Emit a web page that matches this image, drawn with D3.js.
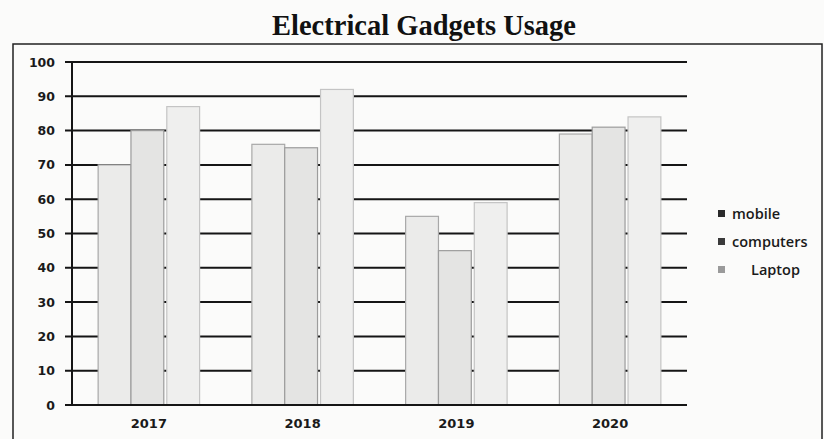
<!DOCTYPE html>
<html>
<head>
<meta charset="utf-8">
<script src="https://cdn.jsdelivr.net/npm/d3@7"></script>
<style>
  body { margin: 0; background: #fbfbfa; }
  svg { display: block; }
</style>
</head>
<body>
<svg id="chart" width="824" height="439"></svg>
<script>
// Data
const years = ["2017", "2018", "2019", "2020"];
const seriesNames = ["mobile", "computers", "Laptop"];
const mobile = [70, 76, 55, 79];
const computers = [80, 75, 45, 81];
const laptop = [87, 92, 59, 84];
const yTicks = [0, 10, 20, 30, 40, 50, 60, 70, 80, 90, 100];

const svg = d3.select("#chart");
const margin = { top: 62, left: 72, right: 137, bottom: 34 };
const width = 824 - margin.left - margin.right;
const height = 439 - margin.top - margin.bottom;

// outer frame of the scanned figure
svg.append("rect")
    .attr("x", 13).attr("y", 44)
    .attr("width", 809).attr("height", 410)
    .attr("fill", "none")
    .attr("stroke", "#222")
    .attr("stroke-width", 1.5);

svg.append("text")
    .attr("x", 424).attr("y", 35)
    .attr("text-anchor", "middle")
    .attr("font-family", "Liberation Serif, serif")
    .attr("font-weight", "bold")
    .attr("font-size", 28.5)
    .attr("fill", "#111")
    .text("Electrical Gadgets Usage");

const g = svg.append("g")
    .attr("transform", `translate(${margin.left},${margin.top})`);

const x0 = d3.scaleBand()
    .domain(years)
    .range([0, width])
    .paddingInner(0.34)
    .paddingOuter(0.17);

// mobile and computers touch, laptop sits a little apart
const laptopGap = 3;
const x1 = d3.scaleBand()
    .domain(seriesNames)
    .range([0, x0.bandwidth() - laptopGap])
    .paddingInner(0);

const y = d3.scaleLinear()
    .domain([0, 100])
    .range([height, 0]);

// gridlines + outward ticks
g.selectAll(".grid")
    .data(yTicks)
    .enter()
    .append("line")
    .attr("x1", -7)
    .attr("x2", width)
    .attr("y1", d => y(d))
    .attr("y2", d => y(d))
    .attr("stroke", "#151515")
    .attr("stroke-width", 2);

// y labels
const yAxis = g.append("g")
    .call(d3.axisLeft(y).tickValues(yTicks).tickSize(0).tickPadding(17));
yAxis.select(".domain").remove();
yAxis.selectAll("text")
    .attr("font-family", "DejaVu Sans, sans-serif")
    .attr("font-weight", "bold")
    .attr("font-size", 12.5)
    .attr("fill", "#1a1a1a");

const table = years.map((yr, i) => ({
    year: yr,
    values: [
        { key: "mobile", value: mobile[i] },
        { key: "computers", value: computers[i] },
        { key: "Laptop", value: laptop[i] }
    ]
}));

const fills = { mobile: "#ebebea", computers: "#e4e4e3", Laptop: "#efefee" };
const strokes = { mobile: "#a8a8a8", computers: "#9c9c9c", Laptop: "#c4c4c4" };

const groups = g.selectAll(".year")
    .data(table)
    .enter()
    .append("g")
    .attr("transform", d => `translate(${x0(d.year)},0)`);

groups.selectAll("rect")
    .data(d => d.values)
    .enter()
    .append("rect")
    .attr("x", d => x1(d.key) + (d.key === "Laptop" ? laptopGap : 0))
    .attr("y", d => y(d.value))
    .attr("width", x1.bandwidth())
    .attr("height", d => height - y(d.value))
    .attr("fill", d => fills[d.key])
    .attr("stroke", d => strokes[d.key])
    .attr("stroke-width", 1.2);

// axes lines
g.append("line")
    .attr("x1", 0).attr("x2", 0)
    .attr("y1", 0).attr("y2", height)
    .attr("stroke", "#151515").attr("stroke-width", 2);
g.append("line")
    .attr("x1", -7).attr("x2", width)
    .attr("y1", height).attr("y2", height)
    .attr("stroke", "#151515").attr("stroke-width", 2);

// x labels
const xAxis = g.append("g")
    .attr("transform", `translate(0,${height})`)
    .call(d3.axisBottom(x0).tickSize(0).tickPadding(14));
xAxis.select(".domain").remove();
xAxis.selectAll("text")
    .attr("font-family", "DejaVu Sans, sans-serif")
    .attr("font-weight", "bold")
    .attr("font-size", 13)
    .attr("fill", "#1a1a1a");

// legend
const legendColors = { mobile: "#2a2a2a", computers: "#3a3a3a", Laptop: "#9a9a9a" };
const legendIndent = { mobile: 0, computers: 0, Laptop: 19 };
const legend = svg.append("g")
    .attr("transform", "translate(718,214)");
const items = legend.selectAll(".item")
    .data(seriesNames)
    .enter()
    .append("g")
    .attr("transform", (d, i) => `translate(0,${i * 28})`);
items.append("rect")
    .attr("x", 0).attr("y", -4)
    .attr("width", 7).attr("height", 7)
    .attr("fill", d => legendColors[d]);
items.append("text")
    .attr("x", d => 14 + legendIndent[d])
    .attr("y", 0)
    .attr("dy", "0.35em")
    .attr("font-family", "Open Sans, sans-serif")
    .attr("font-weight", 600)
    .attr("font-size", 14.5)
    .attr("fill", "#1a1a1a")
    .text(d => d);
</script>
</body>
</html>
